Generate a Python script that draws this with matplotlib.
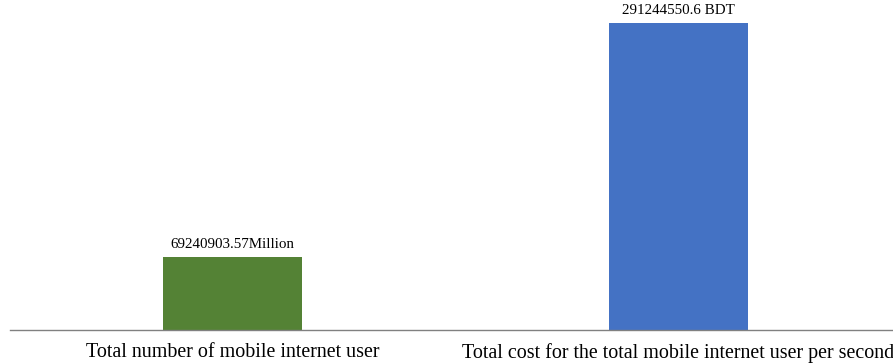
import matplotlib.pyplot as plt

categories = ['Total number of mobile internet user',
              'Total cost for the total mobile internet user per second']
values = [69240903.57, 291244550.6]
value_labels = ['69240903.57Million', '291244550.6 BDT']
colors = ['#548235', '#4472C4']

plt.rcParams['font.family'] = ['Liberation Serif', 'DejaVu Serif']

fig = plt.figure(figsize=(8.93, 3.63), dpi=100)
ax = fig.add_axes([9.5 / 893, 33 / 363, 892 / 893, 330 / 363])
ax.set_facecolor('none')

x = list(range(len(categories)))
ax.bar(x, values, width=0.31, color=colors)
ax.set_xlim(-0.5, 1.5)
ax.set_ylim(0, values[1] * 330 / 307)

for xi, v, lab in zip(x, values, value_labels):
    ax.annotate(lab, (xi, v), xytext=(0, 4), textcoords='offset points',
                ha='center', va='bottom', fontsize=10.8)

ax.set_xticks(x)
ax.set_xticklabels(categories, fontsize=14.4)
ax.tick_params(axis='x', length=0, pad=9.5)
ax.set_yticks([])
for s in ['top', 'left', 'right']:
    ax.spines[s].set_visible(False)
ax.spines['bottom'].set_color('#808080')
ax.spines['bottom'].set_linewidth(1)

fig.savefig('out.png', dpi=100)
